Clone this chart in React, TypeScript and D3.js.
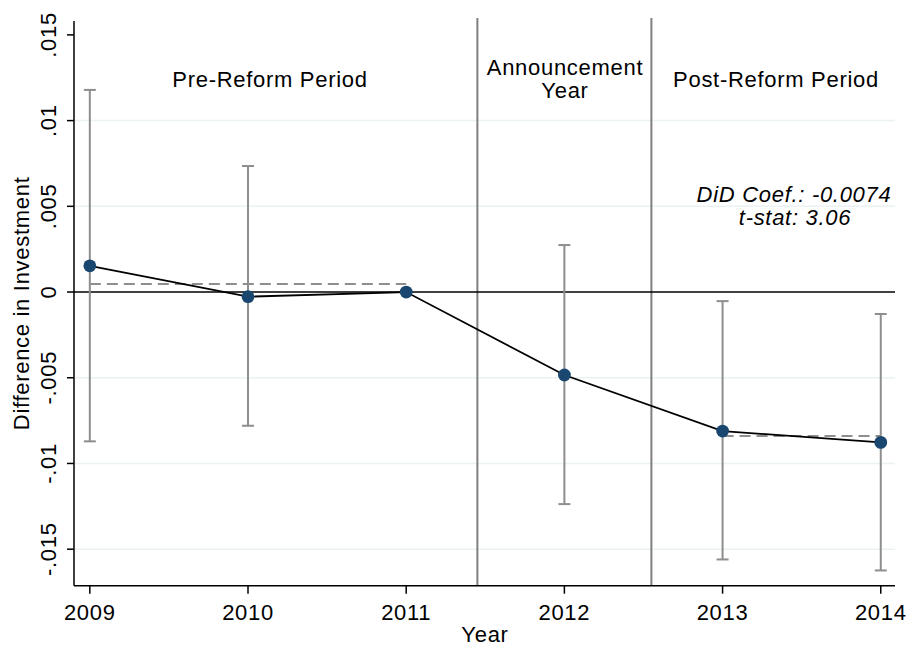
import React from "react";
import * as d3 from "d3";

const years = [2009, 2010, 2011, 2012, 2013, 2014];
const coef = [0.00153, -0.00027, 0.0, -0.00484, -0.00811, -0.00877];
const ciHigh = [0.01179, 0.00735, 0.0, 0.00274, -0.00053, -0.00128];
const ciLow = [-0.00871, -0.0078, 0.0, -0.01237, -0.0156, -0.01624];
const yTicks = [-0.015, -0.01, -0.005, 0, 0.005, 0.01, 0.015];
const yTickLabels = ["-.015", "-.01", "-.005", "0", ".005", ".01", ".015"];
const gridTicks = [-0.015, -0.01, -0.005, 0.005, 0.01];
const periodBreaks = [2011.45, 2012.55];
const preMean = 0.00047;
const postMean = -0.0084;

const W = 909;
const H = 646;
const left = 74;
const right = 895;
const top = 21;
const bottom = 585.7;
const FONT = "'Liberation Sans', Arial, Helvetica, sans-serif";
const FS = 22;
const LS = 0.7;

export default function App() {
  const x = d3.scaleLinear().domain([2008.9, 2014.09]).range([left, right]);
  const y = d3.scaleLinear().domain([-0.01713, 0.01581]).range([bottom, top]);
  const line = d3
    .line<number>()
    .x((_, i) => x(years[i]))
    .y((d) => y(d));
  const capHalf = 6;
  const gray = "#8e8e8e";
  const T = (props: any) => (
    <text fontSize={FS} letterSpacing={LS} fill="#000" textAnchor="middle" {...props} />
  );

  return (
    <svg
      width={W}
      height={H}
      style={{ position: "absolute", left: 0, top: 0, background: "#fff" }}
      fontFamily={FONT}
    >
      <rect width={W} height={H} fill="#fff" />
      {gridTicks.map((t) => (
        <line key={"g" + t} x1={left} x2={right} y1={y(t)} y2={y(t)} stroke="#eaf2f3" strokeWidth={1.5} />
      ))}
      {periodBreaks.map((b) => (
        <line key={"b" + b} x1={x(b)} x2={x(b)} y1={18} y2={bottom} stroke="#7f7f7f" strokeWidth={2} />
      ))}
      <line x1={left} x2={right} y1={y(0)} y2={y(0)} stroke="#000" strokeWidth={1.6} />
      <line x1={x(2009)} x2={x(2011)} y1={y(preMean)} y2={y(preMean)} stroke={gray} strokeWidth={2} strokeDasharray="11,6" />
      <line x1={x(2013)} x2={x(2014)} y1={y(postMean)} y2={y(postMean)} stroke={gray} strokeWidth={2} strokeDasharray="11,6" />
      {years.map((yr, i) =>
        ciHigh[i] === ciLow[i] ? null : (
          <g key={"e" + yr} stroke={gray} strokeWidth={2}>
            <line x1={x(yr)} x2={x(yr)} y1={y(ciHigh[i])} y2={y(ciLow[i])} />
            <line x1={x(yr) - capHalf} x2={x(yr) + capHalf} y1={y(ciHigh[i])} y2={y(ciHigh[i])} />
            <line x1={x(yr) - capHalf} x2={x(yr) + capHalf} y1={y(ciLow[i])} y2={y(ciLow[i])} />
          </g>
        )
      )}
      <path d={line(coef) || ""} fill="none" stroke="#000" strokeWidth={1.8} />
      {years.map((yr, i) => (
        <circle key={"c" + yr} cx={x(yr)} cy={y(coef[i])} r={6.4} fill="#1a476f" />
      ))}
      <line x1={left} x2={left} y1={top} y2={bottom} stroke="#000" strokeWidth={1.5} />
      <line x1={left} x2={right} y1={bottom} y2={bottom} stroke="#000" strokeWidth={1.5} />
      {yTicks.map((t, i) => (
        <g key={"yt" + t}>
          <line x1={left - 7} x2={left} y1={y(t)} y2={y(t)} stroke="#000" strokeWidth={1.5} />
          <T transform={`translate(${56},${y(t)}) rotate(-90)`}>{yTickLabels[i]}</T>
        </g>
      ))}
      {years.map((yr) => (
        <g key={"xt" + yr}>
          <line x1={x(yr)} x2={x(yr)} y1={bottom} y2={bottom + 8} stroke="#000" strokeWidth={1.5} />
          <T x={x(yr)} y={620}>{yr}</T>
        </g>
      ))}
      <T x={485} y={642}>Year</T>
      <T transform={`translate(28.5,${(top + bottom) / 2}) rotate(-90)`}>Difference in Investment</T>
      <T x={270} y={87}>Pre-Reform Period</T>
      <T x={565} y={75}>Announcement</T>
      <T x={565} y={98}>Year</T>
      <T x={776} y={87}>Post-Reform Period</T>
      <T x={794} y={202} fontStyle="italic">DiD Coef.: -0.0074</T>
      <T x={795} y={225} fontStyle="italic">t-stat: 3.06</T>
    </svg>
  );
}
